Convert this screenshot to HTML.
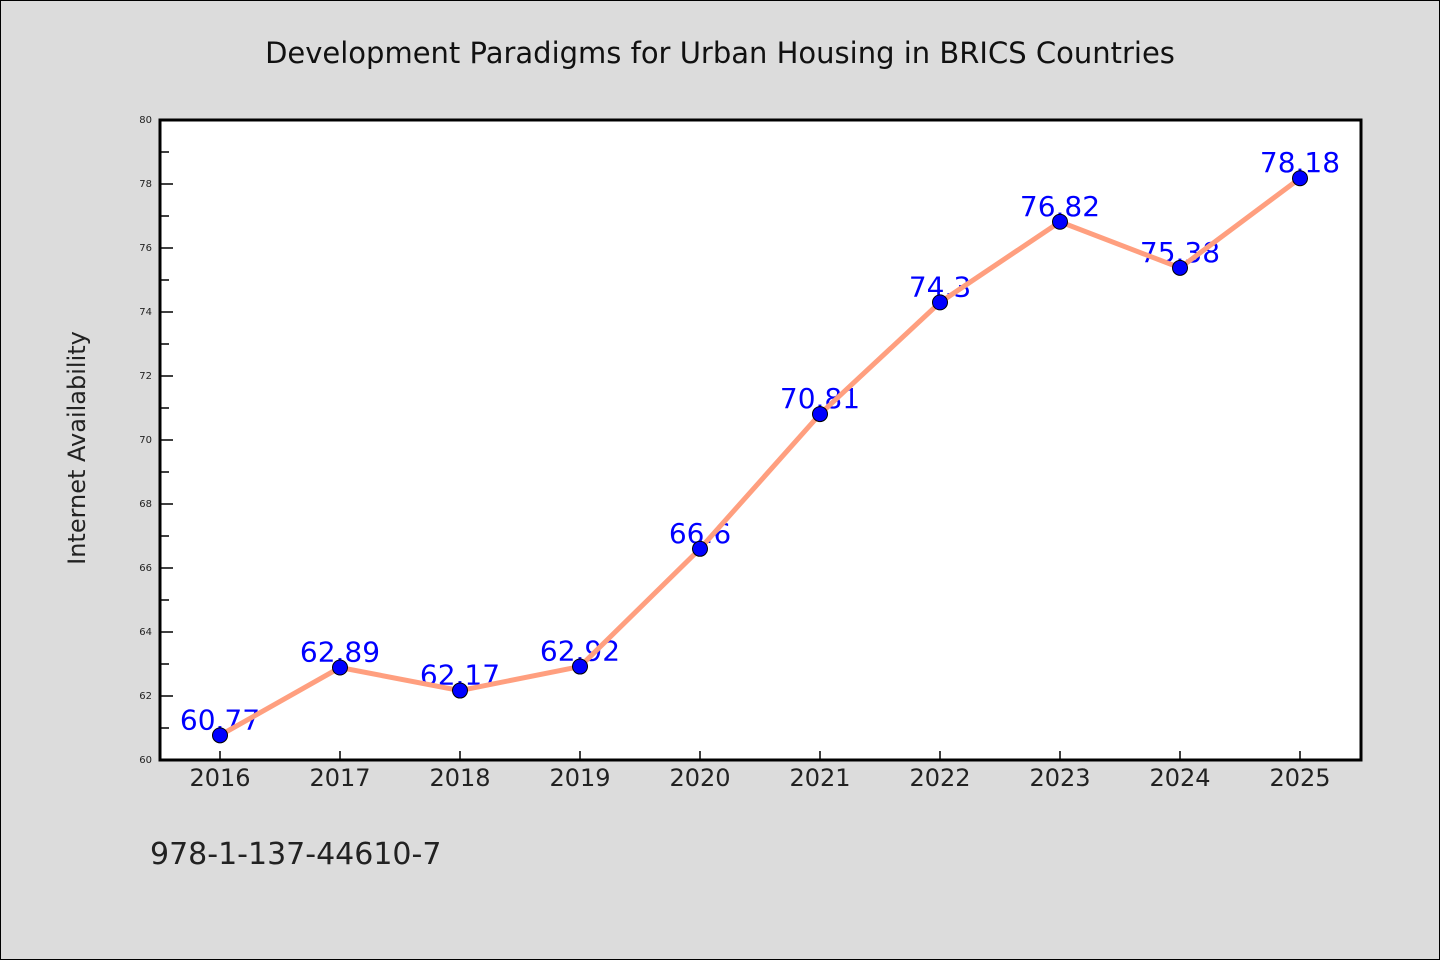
<!DOCTYPE html>
<html><head><meta charset="utf-8"><style>
body{margin:0;background:#dcdcdc;}
svg{display:block;font-family:"WenQuanYi Zen Hei","DejaVu Sans",sans-serif;}
</style></head><body>
<svg id="c" width="1440" height="960">
<rect x="0.5" y="0.5" width="1439" height="959" fill="#dcdcdc" stroke="#000"/>
<text x="720" y="63" text-anchor="middle" font-size="29" fill="#111">Development Paradigms for Urban Housing in BRICS Countries</text>
<rect x="160" y="120" width="1201" height="640" fill="#fff"/>
<g id="g"></g>
<rect x="160" y="120" width="1201" height="640" fill="none" stroke="#000" stroke-width="3"/>
<text transform="translate(85,448) rotate(-90)" text-anchor="middle" font-size="24" fill="#222">Internet Availability</text>
<text x="150" y="864" font-size="30" fill="#222">978-1-137-44610-7</text>
</svg>
<script>
const categories=["2016","2017","2018","2019","2020","2021","2022","2023","2024","2025"];
const values=[60.77,62.89,62.17,62.92,66.6,70.81,74.3,76.82,75.38,78.18];
const yTicks=[60,62,64,66,68,70,72,74,76,78,80];
const NS="http://www.w3.org/2000/svg";
const g=document.getElementById('g');
const x=i=>220+i*120;
const y=v=>760-(v-60)/20*640;
function el(t,a){const e=document.createElementNS(NS,t);for(const k in a)e.setAttribute(k,a[k]);g.appendChild(e);return e;}
yTicks.forEach(t=>{
 const l=el('line',{x1:160,x2:173,y1:y(t),y2:y(t),stroke:'#000','stroke-width':1.5});
 
 
 const tx=el('text',{x:152,y:y(t)+3,'text-anchor':'end','font-size':10,fill:'#222'});
 tx.textContent=t;
 
 
 if(t<80){const m=el('line',{x1:160,x2:169,y1:y(t+1),y2:y(t+1),stroke:'#000','stroke-width':1.5});
 
 }
});
categories.forEach((c,i)=>{
 const l=el('line',{x1:x(i),x2:x(i),y1:760,y2:751,stroke:'#000','stroke-width':1.5});
 
 
 const tx=el('text',{x:x(i),y:786,'text-anchor':'middle','font-size':24,fill:'#222'});
 tx.textContent=c;
 
 
});
values.forEach((v,i)=>{
 const tx=el('text',{x:x(i),y:y(v)-6,'text-anchor':'middle','font-size':28,fill:'#0000ff'});
 tx.textContent=v;
 
 
});
const pl=el('polyline',{points:values.map((v,i)=>x(i)+','+y(v)).join(' '),fill:'none',stroke:'#ff9f7f','stroke-width':5});


values.forEach((v,i)=>{
 const c=el('circle',{cx:x(i),cy:y(v),r:7.5,fill:'#0000ff',stroke:'#000','stroke-width':1});
 
 
});
</script>
</body></html>
